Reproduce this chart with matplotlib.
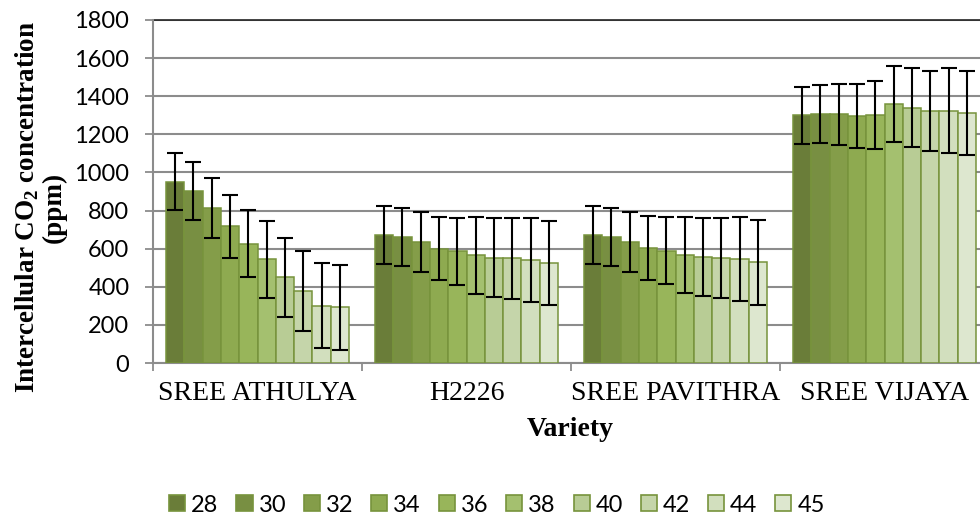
import matplotlib
matplotlib.use("Agg")
import matplotlib.pyplot as plt
import numpy as np
from matplotlib.patches import Patch

plt.rcParams["mathtext.fontset"] = "custom"
plt.rcParams["mathtext.rm"] = "Liberation Serif"
plt.rcParams["mathtext.bf"] = "Liberation Serif:bold"

varieties = ["SREE ATHULYA", "H2226", "SREE PAVITHRA", "SREE VIJAYA"]
temps = ["28", "30", "32", "34", "36", "38", "40", "42", "44", "45"]

# intercellular CO2 (ppm): one list per variety, one value per temperature
athulya = [951, 901, 812, 717, 626, 544, 450, 379, 301, 292]
h2226 = [672, 663, 635, 600, 586, 565, 553, 549, 542, 525]
pavithra = [672, 663, 635, 604, 588, 567, 555, 551, 544, 528]
vijaya = [1299, 1305, 1305, 1297, 1303, 1360, 1339, 1320, 1324, 1312]

# standard error bars (ppm)
athulya_err = [150, 152, 157, 167, 177, 202, 207, 210, 224, 223]
h2226_err = [150, 152, 158, 167, 175, 201, 206, 211, 221, 222]
pavithra_err = [150, 152, 158, 168, 176, 199, 206, 211, 221, 222]
vijaya_err = [150, 152, 160, 168, 178, 200, 207, 210, 224, 222]

values = np.array([athulya, h2226, pavithra, vijaya])
errors = np.array([athulya_err, h2226_err, pavithra_err, vijaya_err])

colors = ["#6a7d39", "#788f42", "#849d49", "#8eaa50", "#98b55a",
          "#a4c06f", "#b8cc95", "#c5d5aa", "#d2dfbe", "#dde7cf"]
edge = "#77933c"
grid_c = "#8c8c8c"

fig = plt.figure(figsize=(9.8, 5.17), dpi=100)
# plot area runs slightly past the right edge of the canvas
ax = fig.add_axes([153 / 980, 1 - 363 / 517, 836 / 980, 343 / 517])

x = np.arange(len(varieties))
w = 0.0876
for j, t in enumerate(temps):
    pos = x + (j - 4.5) * w
    ax.bar(pos, values[:, j], width=w, color=colors[j], edgecolor=edge,
           linewidth=1.1, zorder=3, label=t)
    ax.errorbar(pos, values[:, j], yerr=errors[:, j], fmt="none",
                ecolor="black", elinewidth=1.5, capsize=6, capthick=1.5,
                zorder=4)

ax.set_xlim(-0.5, 3.5)
ax.set_ylim(0, 1800)
ax.set_yticks(np.arange(0, 1801, 200))
ax.set_yticklabels([str(v) for v in range(0, 1801, 200)],
                   fontfamily="Lato", fontsize=17)
ax.yaxis.grid(True, color=grid_c, linewidth=1.5, zorder=0)
ax.set_axisbelow(True)

ax.set_xticks(x)
ax.set_xticklabels(varieties, fontfamily="Liberation Serif", fontsize=20)
ax.set_xticks(np.arange(-0.5, 3.6, 1), minor=True)
ax.tick_params(axis="x", which="major", length=0, pad=13)
ax.tick_params(axis="x", which="minor", length=6, width=1.3, color=grid_c)
ax.tick_params(axis="y", length=6, width=1.3, color=grid_c, pad=11)

for s in ["top", "right"]:
    ax.spines[s].set_visible(False)
for s in ["left", "bottom"]:
    ax.spines[s].set_color(grid_c)
    ax.spines[s].set_linewidth(1.5)
ax.axhline(1800, color="#222222", linewidth=1.2, zorder=2, clip_on=False)

ax.set_xlabel("Variety", fontfamily="Liberation Serif", fontsize=20,
              fontweight="bold")
ax.xaxis.set_label_coords(417 / 836, -(442 - 363) / 343)
ax.xaxis.label.set_va("bottom")

ax.set_ylabel("Intercellular CO$_\\mathbf{2}$ concentration\n(ppm)",
              fontfamily="Liberation Serif", fontsize=19.5, fontweight="bold",
              linespacing=1.05)
ax.yaxis.set_label_coords(-(153 - 40) / 836, (363 - 207) / 343)
ax.yaxis.label.set_va("center")

handles = [Patch(facecolor=c, edgecolor=edge, linewidth=1.2) for c in colors]
fig.legend(handles, temps, loc="center",
           bbox_to_anchor=(497 / 980, 1 - 505 / 517),
           ncol=10, frameon=False, prop={"family": "Lato", "size": 17},
           handlelength=0.68, handleheight=0.68, handletextpad=0.25,
           columnspacing=0.76, borderpad=0)

fig.savefig("out.png", dpi=100)
